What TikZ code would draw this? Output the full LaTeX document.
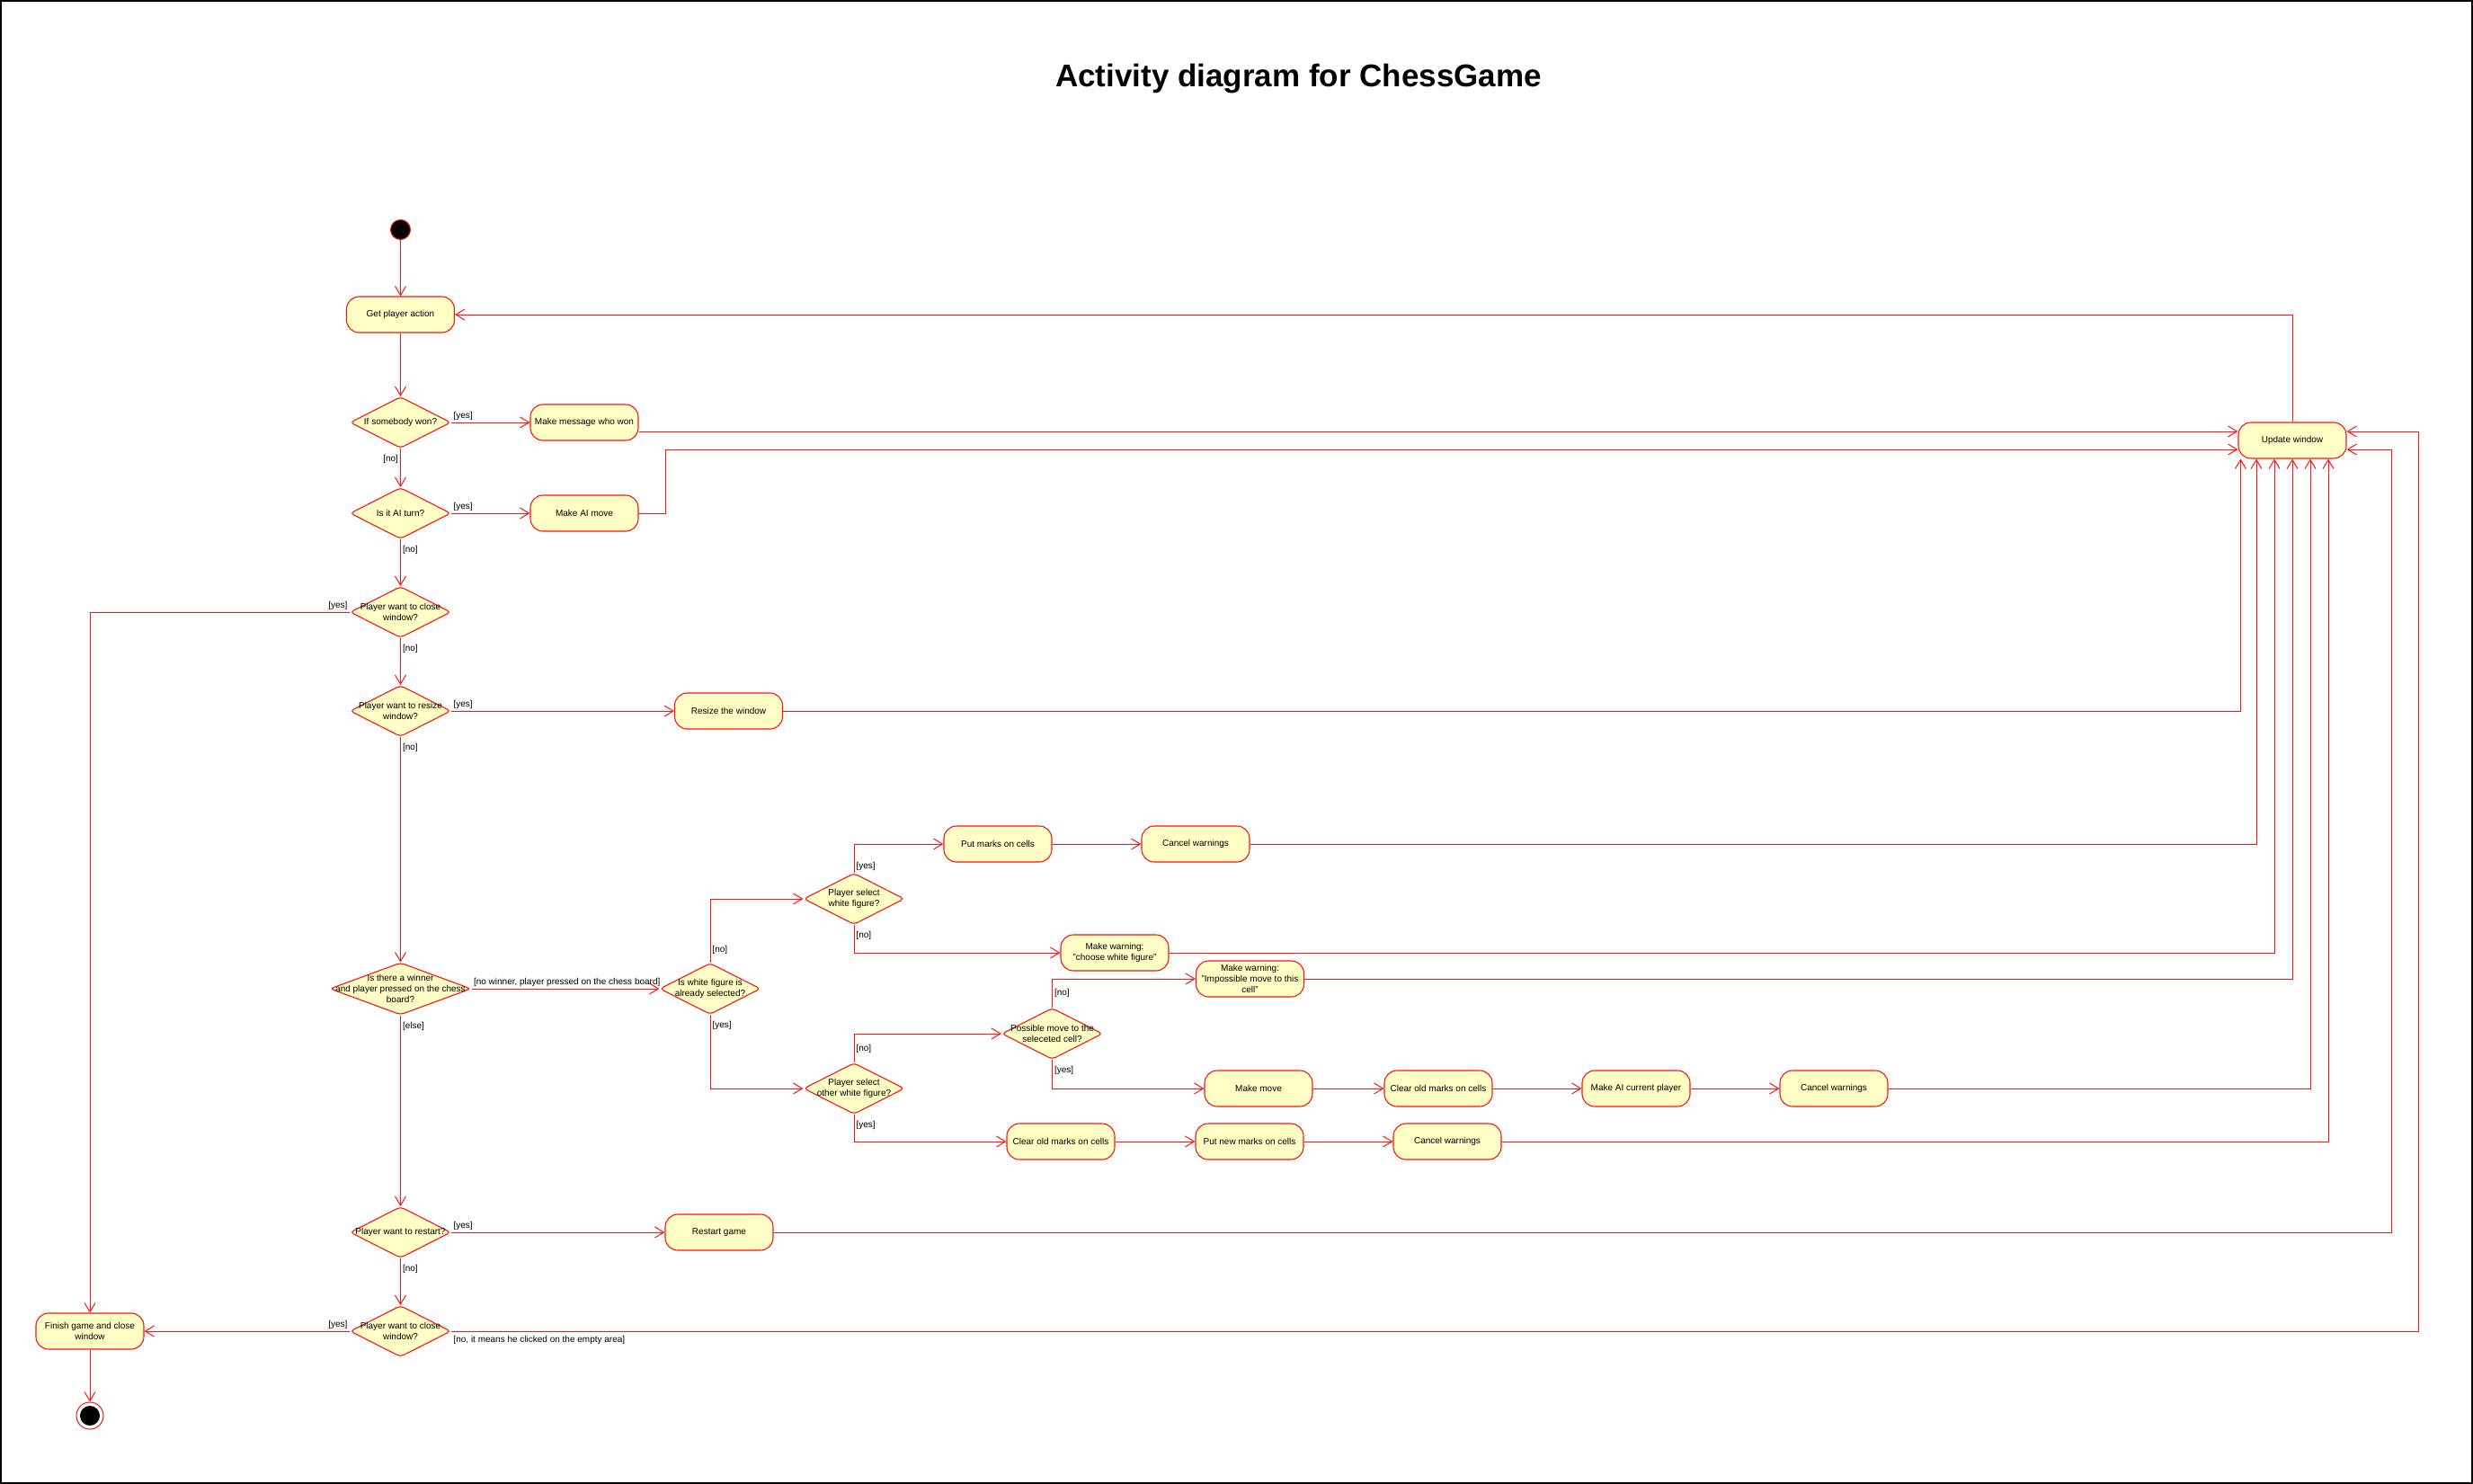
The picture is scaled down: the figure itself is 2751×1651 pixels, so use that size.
\documentclass[tikz,border=0pt]{standalone}
\usepackage{fontspec}
\setmainfont{Liberation Sans}
\usepackage{tikz}
\usetikzlibrary{arrows.meta,shapes.geometric}
\definecolor{umlred}{RGB}{250,20,20}
\definecolor{umlfill}{RGB}{255,255,198}
\newcommand\chartfont{\fontsize{10}{12}\selectfont}

\begin{document}
\begin{tikzpicture}[x=1pt,y=-1pt,
	action/.style={rectangle,rounded corners=14pt,draw=umlred,fill=umlfill,line width=1.1pt,minimum width=120pt,minimum height=40pt,inner sep=2pt,align=center,font=\chartfont},
	decision/.style={diamond,rounded corners=4pt,draw=umlred,fill=umlfill,line width=1.1pt,minimum width=112pt,minimum height=57pt,inner sep=0pt},
	dtext/.style={align=center,font=\chartfont,inner sep=0pt},
	guard/.style={font=\chartfont,inner sep=2pt},
	under/.style={guard,anchor=north west,yshift=-5pt},
	flow/.style={draw=umlred,line width=1pt,-{Straight Barb[length=10pt,width=12pt]}}]
	\useasboundingbox (0,0) rectangle (2751,1651);
	\draw[line width=2pt] (1,1) rectangle (2750,1650);
	\node[font=\fontsize{35}{40}\selectfont\bfseries] (title) at (1444.5,88) {Activity diagram for ChessGame};

	\node[circle,fill=black,draw=umlred,line width=1pt,minimum size=22pt,inner sep=0pt] (start) at (445.5,255.5) {};
	\node[action] (getact) at (445.5,350) {Get player action};
	\node[decision,label={[dtext]center:If somebody won?}] (wonq) at (445.5,470) {};
	\node[action] (msgwon) at (650,470) {Make message who won};
	\node[decision,label={[dtext]center:Is it AI turn?}] (aiq) at (445.5,571) {};
	\node[action] (aimove) at (650,571) {Make AI move};
	\node[decision,label={[dtext]center:{Player want to close\\window?}}] (closeq) at (445.5,681) {};
	\node[decision,label={[dtext]center:{Player want to resize\\window?}}] (resizeq) at (445.5,791) {};
	\node[action] (resize) at (810.5,791) {Resize the window};
	\node[decision,minimum width=157pt,minimum height=58pt,label={[dtext]center:{Is there a winner\\and player pressed on the chess\\board?}}] (boardq) at (445.5,1100) {};
	\node[decision,label={[dtext]center:{Is white figure is\\already selected?}}] (selq) at (790,1100) {};
	\node[decision,label={[dtext]center:{Player select\\white figure?}}] (whiteq) at (950,1000) {};
	\node[action] (putmarks) at (1110,939) {Put marks on cells};
	\node[action] (cancelA) at (1330,939) {Cancel warnings};
	\node[action] (warnwhite) at (1240,1060) {Make warning:\\"choose white figure"};
	\node[decision,label={[dtext]center:{Player select\\other white figure?}}] (otherq) at (950,1211) {};
	\node[decision,label={[dtext]center:{Possible move to the\\seleceted cell?}}] (possq) at (1170.5,1150) {};
	\node[action] (warnmove) at (1390.5,1089) {Make warning:\\"Impossible move to this\\cell"};
	\node[action] (makemove) at (1400,1211) {Make move};
	\node[action] (clearA) at (1600,1211) {Clear old marks on cells};
	\node[action] (aiplayer) at (1820,1211) {Make AI current player};
	\node[action] (cancelB) at (2040,1211) {Cancel warnings};
	\node[action] (clearB) at (1180,1270) {Clear old marks on cells};
	\node[action] (newmarks) at (1390,1270) {Put new marks on cells};
	\node[action] (cancelC) at (1610,1270) {Cancel warnings};
	\node[decision,label={[dtext]center:Player want to restart?}] (restartq) at (445.5,1371) {};
	\node[action] (restart) at (800,1371) {Restart game};
	\node[decision,label={[dtext]center:{Player want to close\\window?}}] (quitq) at (445.5,1481) {};
	\node[action] (finish) at (100,1481) {Finish game and close\\window};
	\node[circle,draw=umlred,fill=white,line width=1pt,minimum size=30pt,inner sep=0pt,
		path picture={\fill[black] (path picture bounding box.center) circle (11pt);}] (stop) at (100,1575) {};
	\node[action] (update) at (2550,490) {Update window};

	\draw[flow] (start) -- (getact);
	\draw[flow] (getact) -- (wonq);
	\draw[flow] (wonq.east) node[guard,above right]{[yes]} -- (msgwon);
	\draw[flow] (wonq.south) node[guard,anchor=north east,yshift=-5pt]{[no]} -- (aiq);
	\draw[flow] (aiq.east) node[guard,above right]{[yes]} -- (aimove);
	\draw[flow] (aiq.south) node[under]{[no]} -- (closeq);
	\draw[flow] (closeq.west) node[guard,above left]{[yes]} -| (finish);
	\draw[flow] (closeq.south) node[under]{[no]} -- (resizeq);
	\draw[flow] (resizeq.east) node[guard,above right]{[yes]} -- (resize);
	\draw[flow] (resizeq.south) node[under]{[no]} -- (boardq);
	\draw[flow] (boardq.east) node[guard,above right]{[no winner, player pressed on the chess board]} -- (selq);
	\draw[flow] (boardq.south) node[under]{[else]} -- (restartq);
	\draw[flow] (selq.north) node[guard,above right,yshift=7pt]{[no]} |- (whiteq);
	\draw[flow] (selq.south) node[under]{[yes]} |- (otherq);
	\draw[flow] (whiteq.north) node[guard,above right]{[yes]} |- (putmarks);
	\draw[flow] (whiteq.south) node[under]{[no]} |- (warnwhite);
	\draw[flow] (putmarks) -- (cancelA);
	\draw[flow] (otherq.north) node[guard,above right,yshift=8pt]{[no]} |- (possq);
	\draw[flow] (otherq.south) node[under]{[yes]} |- (clearB);
	\draw[flow] (possq.north) node[guard,above right,yshift=9pt]{[no]} |- (warnmove);
	\draw[flow] (possq.south) node[under]{[yes]} |- (makemove);
	\draw[flow] (makemove) -- (clearA);
	\draw[flow] (clearA) -- (aiplayer);
	\draw[flow] (aiplayer) -- (cancelB);
	\draw[flow] (clearB) -- (newmarks);
	\draw[flow] (newmarks) -- (cancelC);
	\draw[flow] (restartq.east) node[guard,above right]{[yes]} -- (restart);
	\draw[flow] (restartq.south) node[under]{[no]} -- (quitq);
	\draw[flow] (quitq.west) node[guard,above left]{[yes]} -- (finish);
	\draw[flow] (finish) -- (stop);

	\draw[flow] ([yshift=-10pt]msgwon.east) -- ([yshift=-10pt]msgwon.east -| update.west);
	\draw[flow] (aimove.east) -- ++(30,0) |- ([yshift=-10pt]update.west);
	\draw[flow] (resize) -| ([xshift=3pt]update.south west);
	\draw[flow] (cancelA) -| ([xshift=-40pt]update.south);
	\draw[flow] (warnwhite) -| ([xshift=-20pt]update.south);
	\draw[flow] (warnmove) -| (update);
	\draw[flow] (cancelB) -| ([xshift=20pt]update.south);
	\draw[flow] (cancelC) -| ([xshift=40pt]update.south);
	\draw[flow] (restart) -| ([xshift=50pt,yshift=-10pt]update.east) -- ([yshift=-10pt]update.east);
	\draw[flow] (quitq.east) node[guard,below right,yshift=-3pt]{[no, it means he clicked on the empty area]} -| ([xshift=80pt,yshift=10pt]update.east) -- ([yshift=10pt]update.east);
	\draw[flow] (update) |- (getact);
\end{tikzpicture}
\end{document}
